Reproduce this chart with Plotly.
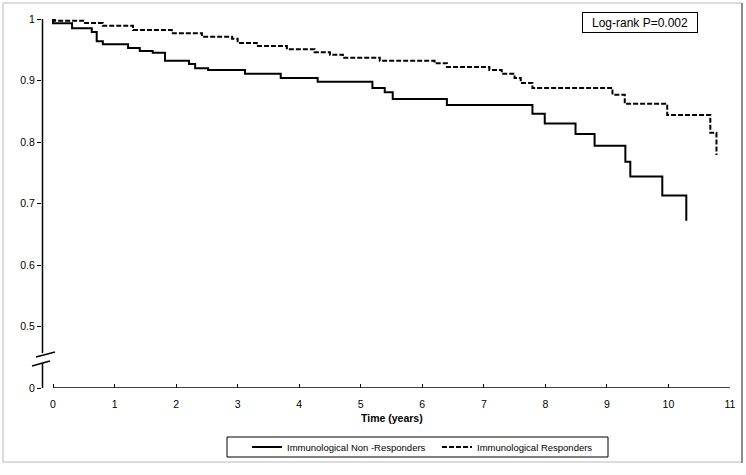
import plotly.graph_objects as go

# ---- data ----
nr_time = [0, 0, 0.31, 0.63, 0.71, 0.81, 1.22, 1.41, 1.62, 1.82, 2.21, 2.31, 2.52, 3.12, 3.70,
           4.30, 5.19, 5.39, 5.52, 6.40, 7.79, 7.99, 8.49, 8.80, 9.30, 9.38, 9.90, 10.29]
nr_surv = [1.0, 0.993, 0.985, 0.979, 0.964, 0.959, 0.953, 0.948, 0.945, 0.932, 0.927, 0.920, 0.917,
           0.911, 0.904, 0.898, 0.888, 0.881, 0.870, 0.860, 0.846, 0.830, 0.813, 0.794, 0.768,
           0.744, 0.713, 0.672]

r_time = [0, 0.03, 0.52, 0.81, 1.30, 1.93, 2.42, 2.91, 3.00, 3.31, 3.80, 4.25, 4.50, 4.71, 5.31,
          6.20, 6.40, 7.09, 7.29, 7.50, 7.60, 7.79, 9.09, 9.29, 9.98, 10.68, 10.78]
r_surv = [1.0, 0.997, 0.9935, 0.989, 0.982, 0.977, 0.971, 0.968, 0.961, 0.956, 0.951, 0.946, 0.942,
          0.937, 0.932, 0.928, 0.922, 0.917, 0.911, 0.904, 0.896, 0.888, 0.877, 0.862, 0.844,
          0.815, 0.779]

x_ticks = list(range(0, 12))
y_tickvals = [0.4, 0.5, 0.6, 0.7, 0.8, 0.9, 1.0]
y_ticktext = ["0", "0.5", "0.6", "0.7", "0.8", "0.9", "1"]

names = ["Immunological Non -Responders", "Immunological Responders"]
pvalue_text = "Log-rank P=0.002"

W, H = 746, 475
FONT = "Liberation Sans, Arial, sans-serif"


def px(x):
    return x / W


def py(y):
    return 1 - y / H


fig = go.Figure()
fig.add_trace(go.Scatter(x=nr_time, y=nr_surv, mode="lines", line_shape="hv",
                         line=dict(color="black", width=2), name=names[0]))
fig.add_trace(go.Scatter(x=r_time, y=r_surv, mode="lines", line_shape="hv",
                         line=dict(color="black", width=2, dash="5px,2px"), name=names[1]))

shapes = [
    # outer frame
    dict(type="rect", xref="paper", yref="paper", x0=px(3), x1=px(742), y0=py(462), y1=py(3),
         line=dict(color="#b8b8b8", width=1)),
    dict(type="line", xref="paper", yref="paper", x0=px(742), x1=px(742), y0=py(463), y1=py(3),
         line=dict(color="#8c8c8c", width=2)),
    # y axis line with break
    dict(type="line", xref="paper", yref="y", x0=px(42.5), x1=px(42.5), y0=1.0, y1=0.457,
         line=dict(color="black", width=1.5)),
    dict(type="line", xref="paper", yref="y", x0=px(42.5), x1=px(42.5), y0=0.441, y1=0.4,
         line=dict(color="black", width=1.5)),
    dict(type="line", xref="paper", yref="paper", x0=px(36), x1=px(55), y0=py(357), y1=py(352),
         line=dict(color="black", width=1.5)),
    dict(type="line", xref="paper", yref="paper", x0=px(32), x1=px(50), y0=py(366), y1=py(361),
         line=dict(color="black", width=1.5)),
    # x axis line
    dict(type="line", xref="x", yref="y", x0=0, x1=11, y0=0.4, y1=0.4,
         line=dict(color="black", width=1.5)),
    # legend box
    dict(type="rect", xref="paper", yref="paper", x0=px(227), x1=px(608), y0=py(457), y1=py(437),
         line=dict(color="black", width=1)),
]

annotations = [
    dict(text="<b>Time (years)</b>", x=5.5, xref="x", y=py(418), yref="paper", showarrow=False,
         font=dict(family=FONT, size=10.5, color="black"), xanchor="center", yanchor="middle"),
    dict(text=pvalue_text, x=px(640), y=py(22.5), xref="paper", yref="paper",
         showarrow=False, font=dict(family=FONT, size=12, color="black"),
         bordercolor="black", borderwidth=1, borderpad=2, width=110, height=15,
         bgcolor="white", xanchor="center", yanchor="middle"),
]

fig.update_layout(
    width=W, height=H, autosize=False,
    margin=dict(l=0, r=0, t=0, b=0, autoexpand=False),
    paper_bgcolor="white", plot_bgcolor="white",
    font=dict(family=FONT, color="black"),
    showlegend=True,
    legend=dict(orientation="h", x=px(247), xanchor="left", y=py(447), yanchor="middle",
                bgcolor="rgba(0,0,0,0)", borderwidth=0, font=dict(family=FONT, size=9.5),
                entrywidth=145, entrywidthmode="pixels", itemclick=False),
    xaxis=dict(domain=[px(42), px(730)], range=[-11 * 11 / 677, 11], tickvals=x_ticks,
               ticks="inside", ticklen=4, tickwidth=1, tickcolor="black", showline=False,
               showgrid=False, zeroline=False, tickfont=dict(family=FONT, size=10.5),
               ticklabelstandoff=8, automargin=False),
    yaxis=dict(domain=[py(388), py(19)], range=[0.4, 1.0], tickvals=y_tickvals,
               ticktext=y_ticktext, ticks="outside", ticklen=4, tickwidth=1, tickcolor="black",
               showline=False, showgrid=False, zeroline=False,
               tickfont=dict(family=FONT, size=10.5), automargin=False),
    shapes=shapes,
    annotations=annotations,
)

fig.write_html("out.html", config={"displayModeBar": False},
               post_script="document.body.style.margin='0';document.body.style.overflow='hidden';")
